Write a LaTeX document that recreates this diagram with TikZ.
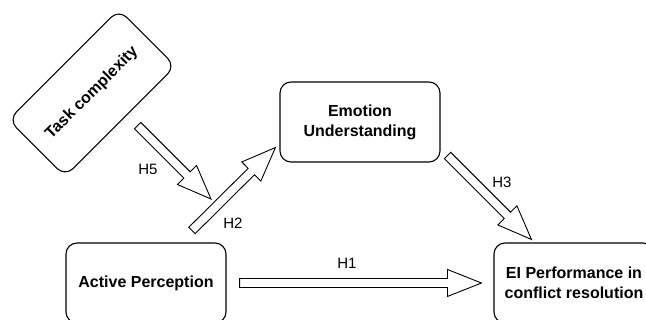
\documentclass[tikz,border=0pt]{standalone}
\usepackage{fontspec}
\setmainfont{Liberation Sans}
\usetikzlibrary{calc}
\newcommand{\shaftw}{4.5pt}
\newcommand{\headw}{13.5pt}
\newcommand{\headl}{34pt}
\begin{document}
\begin{tikzpicture}[x=1pt,y=-1pt]
	\tikzset{box/.style={draw,rounded corners=11pt,line width=1.1pt,minimum width=160pt,minimum height=80pt,inner sep=0pt,align=center,font=\fontsize{16}{20}\selectfont\bfseries},
		lbl/.style={font=\fontsize{15}{18}\selectfont},
		hollow/.style={draw,fill=white,line width=0.9pt,
			to path={($(\tikztostart)!\shaftw!90:(\tikztotarget)$)
				-- ($($(\tikztotarget)!\headl!(\tikztostart)$)!\shaftw!90:(\tikztotarget)$)
				-- ($($(\tikztotarget)!\headl!(\tikztostart)$)!\headw!90:(\tikztotarget)$)
				-- (\tikztotarget)
				-- ($($(\tikztotarget)!\headl!(\tikztostart)$)!\headw!-90:(\tikztotarget)$)
				-- ($($(\tikztotarget)!\headl!(\tikztostart)$)!\shaftw!-90:(\tikztotarget)$)
				-- ($(\tikztostart)!\shaftw!-90:(\tikztotarget)$) -- cycle}}}
	\useasboundingbox (0,0) rectangle (646,320);
	% boxes
	\node[box,rotate=45,minimum width=156pt] (tc) at (92,93) {Task complexity};
	\node[box] (eu) at (360,122) {Emotion\\Understanding};
	\node[box] (ap) at (146,283) {Active Perception};
	\node[box] (ei) at (574,283) {EI Performance in\\conflict resolution};
	% hypotheses
	\draw[hollow] ([xshift=13pt]ap.east) to ([xshift=-12pt]ei.west);
	\draw[hollow] ([shift={(46pt,12pt)}]ap.north) to ([shift={(-4pt,15pt)}]eu.south west);
	\draw[hollow] ([shift={(7pt,7pt)}]eu.south east) to ([shift={(38pt,3pt)}]ei.north west);
	\coordinate (mod) at (211,199);
	\draw[hollow] ([shift={(17pt,-4pt)}]tc.south) to (mod);
	\node[lbl] (h1) at (347,263) {H1};
	\node[lbl] (h2) at (233,223) {H2};
	\node[lbl] (h3) at (502,182) {H3};
	\node[lbl] (h5) at (148,169) {H5};
\end{tikzpicture}
\end{document}
